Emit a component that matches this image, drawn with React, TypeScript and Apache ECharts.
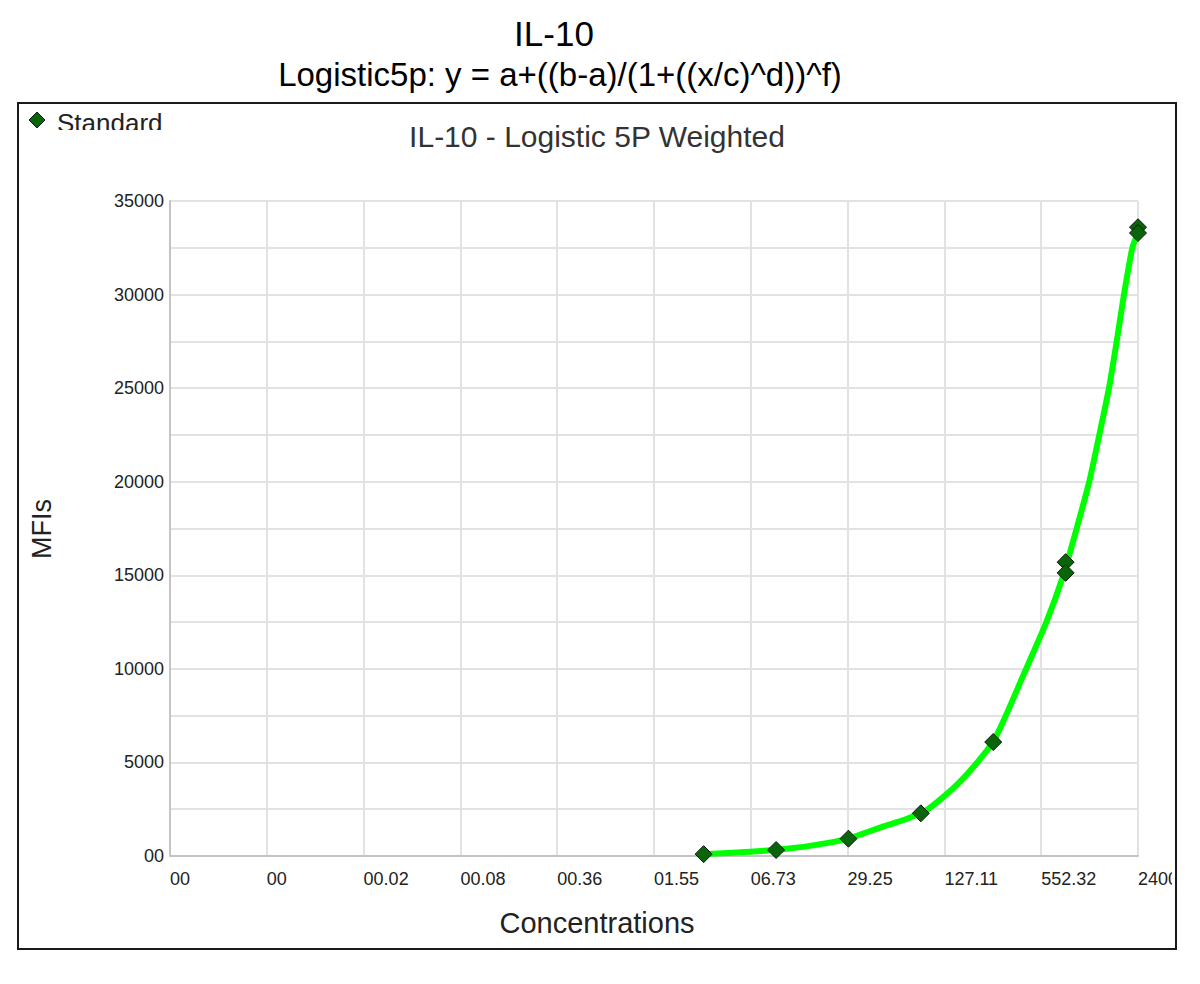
import React, { useEffect, useRef } from 'react';
import * as echarts from 'echarts';

// x axis is a log scale running from 0.001 to 2400 in 10 equal steps
const X_MIN = 0.001;
const X_MAX = 2400;
const xTickLabels = ['00', '00', '00.02', '00.08', '00.36', '01.55', '06.73', '29.25', '127.11', '552.32', '2400'];
const yTickLabels = ['00', '5000', '10000', '15000', '20000', '25000', '30000', '35000'];

// standards (replicates at the top two levels)
const standardConc = [3.29, 9.88, 29.63, 88.89, 266.67, 800, 800, 2400, 2400];
const standardMfi = [100, 320, 925, 2280, 6090, 15700, 15130, 33600, 33290];

// fitted curve
const curveConc = [3.29, 6.65, 9.88, 16.5, 29.6, 47.9, 69.9, 88.9, 99.1, 126.9, 160, 202, 266.7, 318.9, 420.7, 591, 773, 946, 1145, 1334, 1545, 1737, 1940, 2203, 2400];
const curveMfi = [100, 230, 330, 540, 930, 1520, 1950, 2300, 2500, 3200, 3950, 4850, 6100, 7400, 9650, 12400, 15000, 17500, 20000, 22500, 25000, 27500, 30000, 32500, 33300];

const FONT = 'Liberation Sans, Arial, sans-serif';
const steps = xTickLabels.length - 1;
const toAxis = (c: number) => (Math.log(c / X_MIN) / Math.log(X_MAX / X_MIN)) * steps;

const App = () => {
  const chartRef = useRef<HTMLDivElement>(null);

  useEffect(() => {
    if (!chartRef.current) return;
    const chart = echarts.init(chartRef.current, null, { renderer: 'svg' });

    chart.setOption({
      animation: false,
      backgroundColor: '#fff',
      textStyle: { fontFamily: FONT },
      grid: { left: 170, top: 201, width: 968, height: 655 },
      xAxis: {
        type: 'value',
        min: 0,
        max: steps,
        interval: 1,
        axisLine: { lineStyle: { color: '#c4c4c4', width: 2 } },
        axisTick: { show: false },
        splitLine: { show: true, lineStyle: { color: '#e2e2e2', width: 2 } },
        axisLabel: {
          formatter: (v: number) => xTickLabels[Math.round(v)] ?? '',
          align: 'left',
          margin: 14,
          fontSize: 18,
          color: '#222',
          fontFamily: FONT,
        },
      },
      yAxis: {
        type: 'value',
        min: 0,
        max: 35000,
        interval: 2500,
        axisLine: { show: true, lineStyle: { color: '#c4c4c4', width: 2 } },
        axisTick: { show: false },
        splitLine: { show: true, lineStyle: { color: '#e2e2e2', width: 2 } },
        axisLabel: {
          formatter: (v: number) => (v % 5000 === 0 ? yTickLabels[v / 5000] : ''),
          margin: 6,
          fontSize: 18,
          color: '#222',
          fontFamily: FONT,
        },
      },
      series: [
        {
          type: 'line',
          name: 'Curve',
          data: curveConc.map((c, i) => [toAxis(c), curveMfi[i]]),
          showSymbol: false,
          smooth: 0.2,
          lineStyle: { color: '#00ff00', width: 6, join: 'round', cap: 'round' },
          z: 2,
        },
        {
          type: 'scatter',
          name: 'Standard',
          data: standardConc.map((c, i) => [toAxis(c), standardMfi[i]]),
          symbol: 'diamond',
          symbolSize: 17,
          itemStyle: { color: '#0a650a', borderColor: '#0d1a0d', borderWidth: 1, opacity: 1 },
          z: 3,
        },
      ],
      graphic: [
        {
          type: 'text',
          x: 554,
          y: 33,
          style: { text: 'IL-10', font: `35px ${FONT}`, fill: '#000', align: 'center', verticalAlign: 'middle' },
        },
        {
          type: 'text',
          x: 560,
          y: 74,
          style: {
            text: 'Logistic5p: y = a+((b-a)/(1+((x/c)^d))^f)',
            font: `33px ${FONT}`,
            fill: '#000',
            align: 'center',
            verticalAlign: 'middle',
          },
        },
        {
          type: 'text',
          x: 597,
          y: 136,
          style: {
            text: 'IL-10 - Logistic 5P Weighted',
            font: `30px ${FONT}`,
            fill: '#333',
            align: 'center',
            verticalAlign: 'middle',
          },
        },
        {
          type: 'text',
          x: 597,
          y: 923,
          style: { text: 'Concentrations', font: `29px ${FONT}`, fill: '#222', align: 'center', verticalAlign: 'middle' },
        },
        {
          type: 'text',
          x: 42,
          y: 529,
          rotation: Math.PI / 2,
          style: { text: 'MFIs', font: `27px ${FONT}`, fill: '#222', align: 'center', verticalAlign: 'middle' },
        },
        // legend, clipped at its lower edge as in the source
        {
          type: 'polygon',
          shape: { points: [[37, 112], [45, 120], [37, 128], [29, 120]] },
          style: { fill: '#0a650a', stroke: '#0d1a0d', lineWidth: 1 },
        },
        {
          type: 'text',
          x: 57,
          y: 123,
          style: { text: 'Standard', font: `26px ${FONT}`, fill: '#222', align: 'left', verticalAlign: 'middle' },
        },
        {
          type: 'rect',
          z: 100,
          shape: { x: 50, y: 130, width: 140, height: 12 },
          style: { fill: '#fff' },
        },
        {
          type: 'rect',
          z: 100,
          shape: { x: 1172, y: 860, width: 28, height: 40 },
          style: { fill: '#fff' },
        },
        {
          type: 'rect',
          z: 101,
          shape: { x: 18, y: 103, width: 1158, height: 846 },
          style: { fill: 'none', stroke: '#1a1a1a', lineWidth: 2 },
        },
      ],
    });

    return () => {
      chart.dispose();
    };
  }, []);

  return (
    <div
      ref={chartRef}
      style={{ position: 'fixed', left: 0, top: 0, width: 1200, height: 984, background: '#fff' }}
    />
  );
};

export default App;
